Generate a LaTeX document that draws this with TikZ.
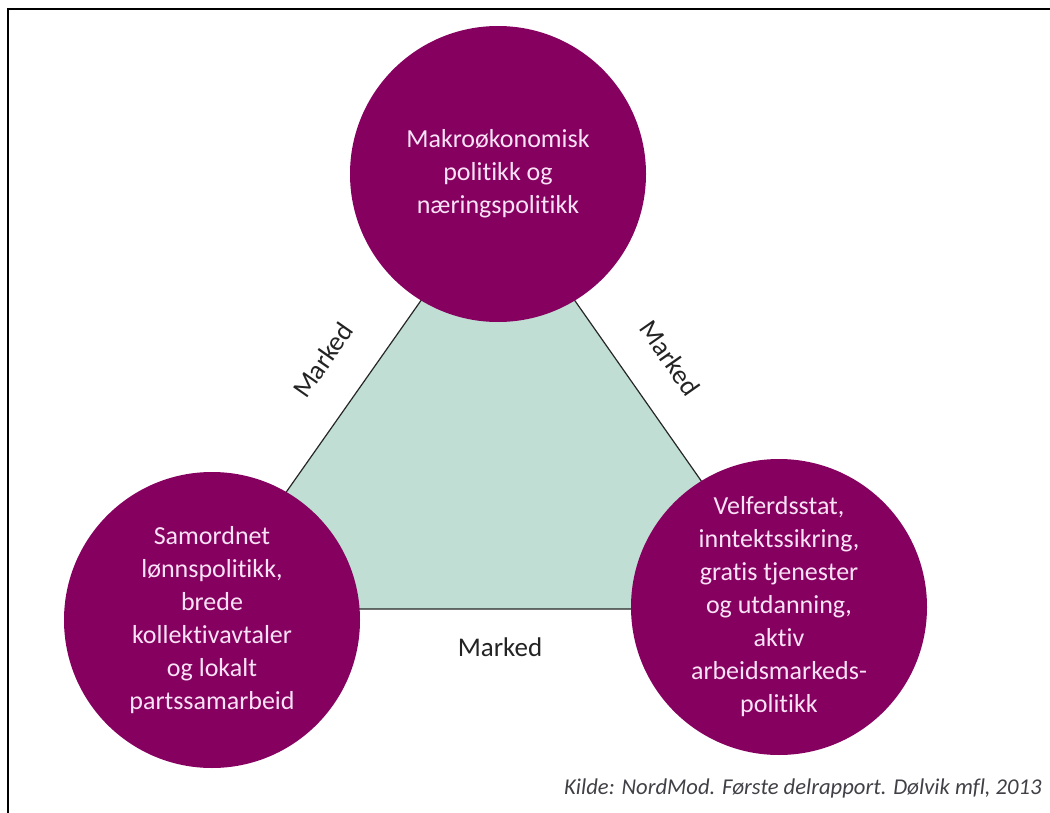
\documentclass[tikz,border=0pt]{standalone}
\usepackage{fontspec}
\setmainfont{Carlito}[Ligatures=NoCommon]
\usetikzlibrary{positioning}
\definecolor{circpurple}{RGB}{134, 0, 96}
\definecolor{trigreen}{RGB}{192, 222, 211}
\definecolor{circtext}{RGB}{250, 226, 246}
\definecolor{labelgray}{RGB}{35, 35, 35}
\definecolor{sourcegray}{RGB}{64, 64, 70}

\begin{document}
\begin{tikzpicture}[x=0.5pt, y=-0.5pt,
    policy/.style={circle, fill=circpurple, minimum size=148pt, inner sep=0pt,
      align=center, text=circtext, font=\fontsize{13}{16.5}\selectfont},
    market/.style={font=\fontsize{13.5}{16}\selectfont, text=labelgray}]
  \useasboundingbox (0,0) rectangle (1050,813);

  % --- Frame (top and left only) ---
  \draw[line width=1pt] (8,813) -- (8,9) -- (1050,9);

  % --- Triangle behind the circles ---
  \coordinate (apex) at (498,191);
  \coordinate (lcorner) at (204,609);
  \coordinate (rcorner) at (791,609);
  \filldraw[fill=trigreen, draw=black!85, line width=0.6pt]
    (apex) -- (lcorner) -- (rcorner) -- cycle;

  % --- Policy circles ---
  \node[policy] (makro) at (498,174) {Makroøkonomisk\\politikk og\\næringspolitikk};
  \node[policy] (lonn) at (212,620)
    {Samordnet\\lønnspolitikk,\\brede\\kollektivavtaler\\og lokalt\\partssamarbeid};
  \node[policy] (velferd) at (779,607)
    {Velferdsstat,\\inntektssikring,\\gratis tjenester\\og utdanning,\\aktiv\\arbeidsmarkeds-\\politikk};

  % --- Edge labels ---
  \node[market, rotate=55] (mleft) at (323,360) {Marked};
  \node[market, rotate=-55] (mright) at (670,358) {Marked};
  \node[market] (mbottom) at (500,647) {Marked};

  % --- Source ---
  \node[font=\itshape\fontsize{11.3}{13}\selectfont, text=sourcegray, anchor=base east, inner sep=0pt]
    (kilde) at (1042,794) {Kilde: NordMod. Første delrapport. Dølvik mfl, 2013};
\end{tikzpicture}
\end{document}
